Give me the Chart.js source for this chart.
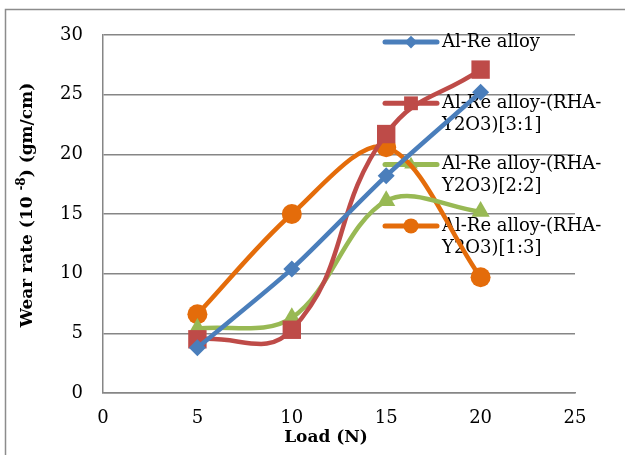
<!DOCTYPE html>
<html>
<head>
<meta charset="utf-8">
<script src="https://cdn.jsdelivr.net/npm/chart.js@4/dist/chart.umd.min.js"></script>
<style>
  html, body { margin: 0; padding: 0; background: #fff; }
  #wrap { width: 625px; height: 455px; }
</style>
</head>
<body>
<div id="wrap"><canvas id="c" width="625" height="455"></canvas></div>
<script>
// Applied load (N)
const loads = [5, 10, 15, 20];

// Wear rate (10^-8 gm/cm) for each material
const alRe      = [3.8, 10.4, 18.2, 25.2];
const alRe31    = [4.5, 5.3, 21.7, 27.1];
const alRe22    = [5.4, 6.3, 16.1, 15.2];
const alRe13    = [6.6, 15.0, 20.6, 9.7];

const seriesNames = [
  'Al-Re alloy',
  'Al-Re alloy-(RHA-Y2O3)[3:1]',
  'Al-Re alloy-(RHA-Y2O3)[2:2]',
  'Al-Re alloy-(RHA-Y2O3)[1:3]'
];

const xTicks = [0, 5, 10, 15, 20, 25];
const yTicks = [0, 5, 10, 15, 20, 25, 30];

const colors   = ['#4a7ebb', '#be4b48', '#98b954', '#e46c0a'];
const styles   = ['rectRot', 'rect', 'triangle', 'circle'];
const radii    = [8.5, 13, 10.5, 10];
const tensions = [0.25, 0.45, 0.35, 0.33];

const FONT = '"DejaVu Serif", serif';

function pts(vals) {
  return loads.map((x, i) => ({ x: x, y: vals[i] }));
}

const seriesValues = [alRe, alRe31, alRe22, alRe13];

const datasets = seriesValues.map((vals, i) => ({
  label: seriesNames[i],
  data: pts(vals),
  borderColor: colors[i],
  backgroundColor: colors[i],
  borderWidth: 4.5,
  tension: tensions[i],
  fill: false,
  pointStyle: styles[i],
  pointRadius: radii[i],
  pointHoverRadius: radii[i],
  pointBackgroundColor: colors[i],
  pointBorderWidth: 0
}));

// Outer frame around the chart
const framePlugin = {
  id: 'frame',
  beforeDraw(chart) {
    const ctx = chart.ctx;
    ctx.save();
    ctx.fillStyle = '#ffffff';
    ctx.fillRect(0, 0, chart.width, chart.height);
    ctx.strokeStyle = '#8c8c8c';
    ctx.lineWidth = 1.5;
    ctx.strokeRect(5.5, 9.5, 700, 600);
    ctx.restore();
  }
};

// Legend placed inside the plot on the right, with wrapped labels
const sideLegend = {
  id: 'sideLegend',
  beforeDatasetsDraw(chart) {
    const ctx = chart.ctx;
    const top = 42, step = 61.3;
    chart.data.datasets.forEach((ds, i) => {
      const y0 = top + i * step;
      ctx.save();
      ctx.strokeStyle = ds.borderColor;
      ctx.lineWidth = 5;
      ctx.lineCap = 'round';
      ctx.beginPath();
      ctx.moveTo(385, y0);
      ctx.lineTo(437, y0);
      ctx.stroke();
      ctx.fillStyle = ds.borderColor;
      Chart.helpers.drawPoint(ctx, {
        pointStyle: ds.pointStyle,
        radius: ds.pointRadius * 0.75,
        borderWidth: 0,
        rotation: 0
      }, 411, y0);
      ctx.fillStyle = '#000';
      ctx.font = '18px ' + FONT;
      ctx.textBaseline = 'middle';
      ctx.textAlign = 'left';
      const lines = ds.label.replace('(RHA-', '(RHA-\n').split('\n');
      lines.forEach((t, k) => ctx.fillText(t, 442, y0 + k * 22));
      ctx.restore();
    });
  }
};

// Axis titles (with superscript exponent)
const axisTitles = {
  id: 'axisTitles',
  afterDraw(chart) {
    const ctx = chart.ctx;
    ctx.save();
    ctx.fillStyle = '#000';
    ctx.textBaseline = 'middle';
    // x title
    ctx.font = 'bold 17px ' + FONT;
    ctx.textAlign = 'center';
    ctx.fillText('Load (N)', 326, 438);
    // y title, rotated
    const parts = [
      { t: 'Wear rate (10 ', f: 'bold 17px ' + FONT, dy: 0 },
      { t: '-8', f: 'bold 12px ' + FONT, dy: -6 },
      { t: ') (gm/cm)', f: 'bold 17px ' + FONT, dy: 0 }
    ];
    let total = 0;
    parts.forEach(p => { ctx.font = p.f; p.w = ctx.measureText(p.t).width; total += p.w; });
    ctx.translate(28, 205);
    ctx.rotate(-Math.PI / 2);
    ctx.textAlign = 'left';
    let x = -total / 2;
    parts.forEach(p => { ctx.font = p.f; ctx.fillText(p.t, x, p.dy); x += p.w; });
    ctx.restore();
  }
};

new Chart(document.getElementById('c'), {
  type: 'line',
  data: { datasets: datasets },
  options: {
    responsive: false,
    animation: false,
    events: [],
    layout: { padding: { top: 35, right: 50, left: 0, bottom: 0 } },
    plugins: { legend: { display: false }, tooltip: { enabled: false } },
    scales: {
      x: {
        type: 'linear',
        min: 0, max: 25,
        afterFit(s) { s.height = 62; },
        afterBuildTicks(s) { s.ticks = xTicks.map(v => ({ value: v })); },
        grid: { display: false, drawTicks: false },
        border: { display: true, color: '#868686', width: 1.5 },
        ticks: { padding: 15, color: '#000', font: { family: FONT, size: 18 } }
      },
      y: {
        min: 0, max: 30,
        afterFit(s) { s.width = 103; },
        afterBuildTicks(s) { s.ticks = yTicks.map(v => ({ value: v })); },
        grid: { color: '#868686', lineWidth: 1.5, drawTicks: false },
        border: { display: true, color: '#868686', width: 1.5 },
        ticks: { padding: 20, color: '#000', font: { family: FONT, size: 18 } }
      }
    }
  },
  plugins: [framePlugin, sideLegend, axisTitles]
});
</script>
</body>
</html>
